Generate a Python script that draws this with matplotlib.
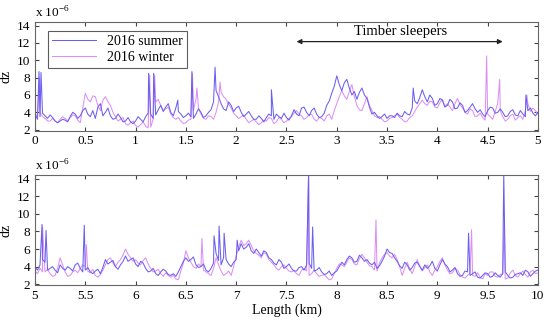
import numpy as np
import matplotlib
matplotlib.use('Agg')
import matplotlib.pyplot as plt

plt.rcParams['font.family'] = ['Liberation Serif', 'DejaVu Serif']
plt.rcParams['mathtext.fontset'] = 'custom'
plt.rcParams['mathtext.rm'] = 'Liberation Serif'

# readings every 0.05 km (values in 1e-6), plus the in-between readings at +0.025 km
x_top = np.round(np.arange(0, 5.001, 0.05), 3)
x_bot = np.round(np.arange(5, 10.001, 0.05), 3)

summer_top = [3.8, 3.5, 3.6, 3.7, 3.0, 3.0, 3.1, 3.5, 3.8, 3.6,
              4.5, 3.5, 3.3, 5.0, 4.0, 3.6, 3.3, 3.4, 3.0, 2.9,
              3.0, 3.2, 3.5, 3.8, 3.7, 4.8, 4.6, 4.0, 4.5, 3.8,
              3.6, 3.5, 3.8, 4.0, 3.6, 4.3, 6.5, 5.0, 4.2, 4.8,
              4.5, 4.0, 3.8, 3.6, 3.2, 3.3, 3.4, 3.6, 3.8, 3.3,
              3.4, 3.6, 3.8, 4.5, 4.0, 4.2, 3.8, 3.5, 4.8, 6.2,
              8.2, 6.5, 7.8, 6.0, 5.5, 6.8, 5.6, 3.8, 3.6, 3.5,
              3.3, 3.6, 3.9, 3.5, 3.8, 4.5, 5.0, 6.6, 5.2, 5.6,
              5.0, 5.4, 4.8, 5.2, 4.5, 4.8, 4.2, 5.0, 4.0, 3.8,
              4.2, 4.5, 4.0, 4.0, 3.6, 4.3, 3.6, 3.8, 4.2, 3.9, 4.0]
summer_top_mid = [3.2, 3.9, 3.3, 3.4, 2.8, 3.2, 2.9, 4.0, 3.3, 4.2,
                  3.8, 4.2, 4.6, 3.6, 4.5, 3.2, 3.8, 2.9, 3.4, 2.7,
                  3.5, 2.9, 3.9, 3.3, 4.3, 4.1, 5.0, 3.6, 4.1, 3.4,
                  3.9, 3.3, 4.4, 3.4, 4.0, 5.2, 5.8, 4.4, 5.2, 4.1,
                  4.7, 3.5, 4.1, 3.2, 3.6, 2.9, 3.8, 3.2, 3.5, 3.9,
                  3.1, 4.3, 3.6, 4.6, 3.6, 4.5, 3.4, 3.9, 5.3, 7.0,
                  7.2, 7.4, 6.8, 6.4, 6.3, 6.0, 4.6, 4.0, 3.3, 3.8,
                  3.6, 3.4, 3.6, 4.1, 3.7, 5.3, 5.7, 5.8, 6.0, 4.8,
                  5.6, 4.6, 5.5, 4.4, 5.1, 4.0, 4.6, 4.4, 4.3, 3.5,
                  4.6, 3.9, 4.4, 3.5, 4.1, 3.7, 4.2, 3.5, 4.5, 3.6]
winter_top = [3.4, 4.0, 3.3, 3.0, 3.0, 3.2, 3.3, 3.4, 3.6, 2.8,
              6.2, 5.2, 5.8, 4.2, 5.8, 4.8, 3.5, 3.2, 2.7, 2.8,
              2.5, 2.6, 2.4, 2.3, 5.2, 4.8, 4.4, 3.8, 3.2, 3.0,
              2.8, 3.2, 5.5, 3.8, 3.2, 3.5, 4.0, 6.3, 5.5, 4.5,
              3.6, 3.5, 3.2, 3.0, 2.9, 2.8, 3.0, 3.3, 2.9, 3.2,
              3.0, 3.5, 4.2, 3.6, 3.4, 3.8, 3.0, 3.3, 3.6, 3.2,
              5.0, 6.5, 5.5, 7.2, 4.8, 4.2, 5.8, 4.2, 3.4, 3.2,
              3.0, 3.4, 3.8, 3.2, 3.0, 3.6, 4.6, 5.4, 4.8, 5.2,
              4.5, 5.5, 5.0, 4.2, 5.6, 4.5, 3.8, 4.2, 3.6, 3.4,
              3.8, 3.2, 5.0, 3.5, 3.2, 3.8, 3.4, 3.2, 5.0, 4.5, 3.8]
winter_top_mid = [3.8, 3.5, 3.0, 3.3, 2.8, 3.5, 3.0, 3.7, 3.1, 4.5,
                  5.5, 5.9, 4.8, 5.4, 5.2, 4.0, 3.0, 3.4, 2.5, 3.0,
                  2.3, 2.9, 2.2, 3.2, 5.5, 4.2, 4.6, 3.4, 3.4, 2.7,
                  3.1, 4.2, 4.5, 3.3, 3.6, 3.2, 5.2, 5.8, 4.9, 3.9,
                  3.3, 3.7, 2.8, 3.2, 2.6, 3.1, 3.4, 2.7, 3.4, 2.8,
                  3.3, 3.9, 3.8, 3.2, 3.7, 3.2, 3.4, 3.0, 3.8, 4.2,
                  5.8, 5.9, 6.4, 5.8, 4.3, 5.0, 4.8, 3.6, 3.5, 2.9,
                  3.3, 3.6, 3.4, 2.9, 3.4, 4.1, 5.0, 5.0, 5.3, 4.6,
                  5.1, 4.7, 4.6, 5.0, 4.9, 4.0, 4.4, 3.5, 3.9, 3.1,
                  3.5, 4.1, 4.2, 3.0, 3.6, 3.1, 3.6, 4.2, 4.1, 4.2]
summer_bot = [4.0, 4.2, 4.5, 3.8, 3.6, 4.2, 3.6, 3.8, 4.2, 3.8,
              3.6, 3.4, 3.5, 3.2, 4.8, 4.5, 4.0, 4.2, 5.2, 4.8,
              4.3, 4.6, 3.8, 3.5, 3.2, 3.4, 3.5, 3.0, 2.9, 4.0,
              5.0, 4.8, 4.2, 4.0, 3.6, 3.8, 5.5, 4.2, 4.8, 4.0,
              4.8, 6.6, 6.2, 5.8, 6.0, 5.2, 5.6, 4.8, 4.2, 4.5,
              4.0, 3.8, 3.5, 4.0, 4.2, 3.8, 3.6, 3.4, 3.2, 3.0,
              3.5, 4.5, 4.8, 5.0, 4.6, 5.0, 4.8, 4.2, 3.8, 4.6,
              6.0, 5.5, 4.6, 3.8, 4.2, 3.9, 4.5, 3.6, 3.8, 4.6,
              3.5, 4.8, 4.0, 3.6, 3.2, 3.0, 3.4, 3.2, 2.8, 3.0,
              3.2, 2.9, 3.0, 3.2, 3.0, 2.8, 3.2, 3.0, 3.4, 3.2, 3.6]
summer_bot_mid = [3.6, 4.8, 3.6, 4.0, 3.3, 3.8, 4.0, 3.5, 4.4, 3.4,
                  3.9, 3.2, 3.7, 3.9, 4.3, 4.7, 3.7, 4.6, 4.6, 5.0,
                  4.0, 4.4, 3.4, 3.8, 3.0, 3.7, 3.1, 3.2, 3.4, 4.6,
                  4.6, 5.1, 3.9, 4.3, 3.4, 4.4, 4.7, 5.0, 4.3, 4.5,
                  5.8, 6.0, 6.6, 5.5, 5.6, 5.8, 5.0, 4.4, 4.8, 3.8,
                  4.3, 3.5, 3.9, 3.6, 4.4, 3.5, 3.9, 3.1, 3.5, 3.3,
                  4.0, 4.2, 5.2, 4.5, 5.3, 4.6, 4.4, 4.5, 4.1, 5.2,
                  5.6, 5.0, 4.1, 4.5, 3.6, 4.4, 4.0, 4.2, 4.1, 3.8,
                  4.2, 4.3, 3.4, 3.9, 2.9, 3.5, 3.0, 3.4, 2.7, 3.3,
                  2.8, 3.3, 2.8, 3.4, 2.7, 3.1, 3.3, 3.6, 2.9, 3.5]
winter_bot = [3.5, 3.8, 3.4, 3.2, 3.0, 5.0, 3.4, 3.0, 3.6, 3.8,
              4.0, 3.3, 3.0, 3.1, 4.2, 5.0, 4.0, 4.8, 6.0, 5.0,
              4.8, 4.2, 5.0, 3.8, 3.5, 3.2, 3.3, 2.8, 2.6, 3.5,
              5.8, 4.5, 3.8, 4.0, 3.4, 3.0, 5.0, 3.5, 3.2, 3.0,
              5.2, 7.0, 6.6, 6.4, 5.5, 5.0, 5.4, 4.5, 3.8, 4.0,
              3.8, 3.4, 3.2, 3.6, 3.5, 3.2, 3.2, 3.0, 2.8, 2.6,
              3.8, 4.2, 4.5, 4.8, 4.2, 5.4, 4.5, 4.0, 3.5, 5.0,
              5.6, 5.0, 4.8, 3.0, 4.5, 3.2, 4.8, 3.5, 4.2, 3.0,
              4.0, 5.0, 3.6, 3.3, 3.6, 2.8, 3.0, 3.0, 3.3, 2.6,
              3.0, 3.4, 2.8, 3.2, 2.7, 3.6, 2.8, 3.5, 2.8, 3.6, 3.3]
winter_bot_mid = [3.2, 3.4, 3.7, 2.9, 3.8, 4.2, 2.9, 3.4, 3.3, 4.2,
                  3.5, 3.7, 2.8, 3.6, 4.8, 4.4, 4.5, 5.3, 5.4, 4.6,
                  4.4, 4.7, 4.3, 3.4, 3.7, 2.9, 3.0, 3.0, 2.5, 4.4,
                  5.0, 4.0, 4.3, 3.6, 3.2, 3.8, 4.2, 3.0, 3.5, 4.0,
                  6.2, 6.4, 7.0, 5.8, 5.3, 5.6, 4.8, 4.2, 3.6, 4.2,
                  3.5, 3.6, 3.0, 3.8, 3.0, 3.6, 2.9, 3.1, 2.5, 3.2,
                  4.3, 4.0, 5.0, 4.3, 4.9, 5.0, 4.1, 3.6, 4.4, 5.4,
                  5.2, 5.4, 4.0, 3.8, 3.8, 4.0, 4.1, 3.9, 3.4, 3.6,
                  4.6, 4.2, 3.2, 3.8, 3.1, 2.7, 3.3, 2.9, 2.8, 3.2,
                  3.4, 2.9, 3.1, 2.6, 3.3, 3.0, 3.2, 3.1, 3.4, 3.2]

# narrow peaks (km, value)
summer_top_peaks = [(0.04, 8.7), (0.06, 8.6), (1.13, 8.5), (1.18, 8.5), (1.42, 5.4),
                    (1.56, 8.7), (1.79, 9.2), (2.35, 6.6), (3.76, 6.8), (4.88, 6.0)]
winter_top_peaks = [(0.045, 8.0), (1.14, 8.3), (1.19, 8.3), (1.565, 8.5), (1.61, 6.8),
                    (1.84, 7.5), (4.49, 10.5), (4.62, 7.8), (4.89, 6.0)]
summer_bot_peaks = [(5.07, 8.8), (5.11, 8.1), (5.49, 8.7), (6.78, 7.5), (6.83, 8.6),
                    (6.88, 7.8), (7.01, 7.0), (7.72, 14.6), (7.76, 8.5), (9.31, 7.8),
                    (9.66, 14.6)]
winter_bot_peaks = [(5.075, 8.5), (5.51, 6.5), (6.66, 7.2), (7.72, 14.6), (8.39, 9.3),
                    (9.34, 8.2), (9.665, 9.0)]

c_summer = '#6b5ff0'
c_winter = '#dd8ff5'


def merge(x, y, ymid, peaks):
    xm = x[:-1] + 0.025
    px = [p[0] for p in peaks]
    py = [p[1] for p in peaks]
    xs = np.concatenate([x, xm, px])
    ys = np.concatenate([y, ymid, py])
    o = np.argsort(xs, kind='stable')
    return xs[o], ys[o]


fig = plt.figure(figsize=(5.5, 3.2), dpi=100)
ax1 = fig.add_axes([0.0636, 0.592, 0.9145, 0.339])
ax2 = fig.add_axes([0.0636, 0.109, 0.9145, 0.344])

panels = [(ax1, x_top, summer_top, summer_top_mid, winter_top, winter_top_mid,
           summer_top_peaks, winter_top_peaks, (0, 5)),
          (ax2, x_bot, summer_bot, summer_bot_mid, winter_bot, winter_bot_mid,
           summer_bot_peaks, winter_bot_peaks, (5, 10))]

for ax, xx, s, sm, w, wm, sp, wp, xl in panels:
    xw, yw = merge(xx, w, wm, wp)
    xs, ys = merge(xx, s, sm, sp)
    lw, = ax.plot(xw, yw, color=c_winter, lw=0.75)
    ls, = ax.plot(xs, ys, color=c_summer, lw=0.75)
    ax.set_xlim(*xl)
    ax.set_ylim(1.9, 14.4)
    ticks = np.arange(xl[0], xl[1] + 0.01, 0.5)
    ax.set_xticks(ticks)
    ax.set_xticklabels([f'{v:g}' for v in ticks])
    ax.set_yticks(range(2, 15, 2))
    ax.tick_params(direction='in', top=True, right=True, length=3,
                   labelsize=9.5, color='#444444')
    for sp_ in ax.spines.values():
        sp_.set_color('#666666')
        sp_.set_linewidth(0.8)
    ax.set_ylabel('dz', fontsize=10, labelpad=3)
    ax.text(0.0, 1.015, r'x 10$^{-6}$', transform=ax.transAxes,
            fontsize=9.5, ha='left', va='bottom')

leg = ax1.legend([ls, lw], ['2016 summer', '2016 winter'], loc='upper left',
                 bbox_to_anchor=(0.025, 0.92), borderaxespad=0, fontsize=10,
                 fancybox=False, handlelength=3.2, borderpad=0.3, labelspacing=0.2)
leg.get_frame().set_edgecolor('#333333')
leg.get_frame().set_linewidth(0.8)

ax1.annotate('', xy=(2.6, 12.15), xytext=(4.65, 12.15),
             arrowprops=dict(arrowstyle='<|-|>', color='#222222', lw=0.9,
                             mutation_scale=7, shrinkA=0, shrinkB=0))
ax1.text(3.63, 12.55, 'Timber sleepers', ha='center', va='bottom', fontsize=10.5)

ax2.set_xlabel('Length (km)', fontsize=10, labelpad=1)

fig.savefig('out.png', dpi=100)
